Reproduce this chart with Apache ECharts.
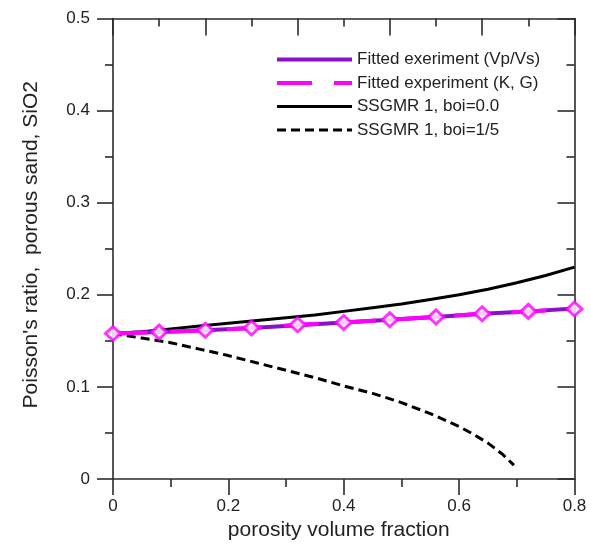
<!DOCTYPE html>
<html>
<head>
<meta charset="utf-8">
<script src="https://cdn.jsdelivr.net/npm/echarts@6/dist/echarts.min.js"></script>
<style>
html,body{margin:0;padding:0;background:#fff;}
#chart{width:591px;height:547px;}
</style>
</head>
<body>
<div id="chart"></div>
<script>
// Fitted experiment points (porosity, Poisson's ratio)
const fitX = [0, 0.08, 0.16, 0.24, 0.32, 0.40, 0.48, 0.56, 0.64, 0.72, 0.80];
const fitVpVs = [0.158, 0.1595, 0.1615, 0.164, 0.167, 0.170, 0.173, 0.176, 0.1795, 0.182, 0.185];
const fitKG   = [0.158, 0.1595, 0.1615, 0.164, 0.1675, 0.170, 0.173, 0.176, 0.1795, 0.182, 0.1845];

// SSGMR 1 model curves
const modelX = [0, 0.05, 0.1, 0.15, 0.2, 0.25, 0.3, 0.35, 0.4, 0.45, 0.5, 0.55, 0.6, 0.65, 0.7, 0.75, 0.8];
const boi0 = [0.158, 0.160, 0.163, 0.166, 0.169, 0.172, 0.175, 0.178, 0.182, 0.186, 0.190, 0.195, 0.200, 0.206, 0.213, 0.221, 0.230];
const boiX = [0, 0.05, 0.1, 0.15, 0.2, 0.25, 0.3, 0.35, 0.4, 0.45, 0.5, 0.55, 0.6, 0.625, 0.65, 0.675, 0.695];
const boi15 = [0.158, 0.153, 0.148, 0.141, 0.134, 0.126, 0.118, 0.110, 0.101, 0.093, 0.083, 0.071, 0.057, 0.0485, 0.039, 0.027, 0.015];

const names = ['Fitted exeriment (Vp/Vs)', 'Fitted experiment (K, G)', 'SSGMR 1, boi=0.0', 'SSGMR 1, boi=1/5'];
const xTicks = ['0', '0.2', '0.4', '0.6', '0.8'];
const yTicks = ['0', '0.1', '0.2', '0.3', '0.4', '0.5'];

const pairs = (xs, ys) => xs.map((x, i) => [x, ys[i]]);
const FONT = '"Liberation Sans", Arial, sans-serif';
const AX = '#2b2b2b';

const chart = echarts.init(document.getElementById('chart'), null, {renderer: 'canvas'});
chart.setOption({
  animation: false,
  backgroundColor: '#fff',
  textStyle: {fontFamily: FONT},
  grid: {left: 113, right: 16.5, top: 18.5, bottom: 68, containLabel: false},
  legend: {
    orient: 'vertical', left: 270, top: 46,
    itemWidth: 75, itemHeight: 14, itemGap: 6.5,
    data: names,
    lineStyle: {width: 'inherit'},
    itemStyle: {color: 'rgba(0,0,0,0)', borderColor: 'rgba(0,0,0,0)', borderWidth: 0, opacity: 0},
    textStyle: {fontFamily: FONT, fontSize: 17, color: '#222', padding: [0, 0, 0, 0]}
  },
  xAxis: [{
    type: 'value', position: 'bottom', min: 0, max: 0.8, interval: 0.2,
    axisLine: {show: true, onZero: false, lineStyle: {color: AX, width: 1.6}},
    axisTick: {show: true, inside: false, length: 16, lineStyle: {color: AX, width: 1.6}},
    minorTick: {show: true, splitNumber: 2, length: 8, lineStyle: {color: AX, width: 1.6}},
    splitLine: {show: false},
    axisLabel: {margin: 19, fontSize: 17, color: '#222', fontFamily: FONT,
      formatter: (v) => xTicks.find(t => Math.abs(parseFloat(t) - v) < 1e-9) || ''},
    name: 'porosity volume fraction', nameLocation: 'middle', nameGap: 41,
    nameTextStyle: {fontSize: 21, color: '#222', fontFamily: FONT, padding: [0, 10, 0, 0]}
  }, {
    type: 'value', position: 'top', min: 0, max: 0.8, interval: 0.16,
    axisLine: {show: true, onZero: false, lineStyle: {color: AX, width: 1.6}},
    axisTick: {show: true, inside: true, length: 17, lineStyle: {color: AX, width: 1.6}},
    minorTick: {show: true, splitNumber: 2, length: 8, lineStyle: {color: AX, width: 1.6}},
    splitLine: {show: false},
    axisLabel: {show: false}
  }],
  yAxis: [{
    type: 'value', position: 'left', min: 0, max: 0.5, interval: 0.1,
    axisLine: {show: true, onZero: false, lineStyle: {color: AX, width: 1.6}},
    axisTick: {show: true, inside: false, length: 16, lineStyle: {color: AX, width: 1.6}},
    minorTick: {show: true, splitNumber: 2, length: 8, lineStyle: {color: AX, width: 1.6}},
    splitLine: {show: false},
    axisLabel: {margin: 23, fontSize: 17, color: '#222', fontFamily: FONT,
      formatter: (v) => yTicks.find(t => Math.abs(parseFloat(t) - v) < 1e-9) || ''},
    name: "Poisson's ratio,  porous sand, SiO2", nameLocation: 'middle', nameGap: 71,
    nameTextStyle: {fontSize: 21, color: '#222', fontFamily: FONT, padding: [0, 0, 0, 8]}
  }, {
    type: 'value', position: 'right', min: 0, max: 0.5, interval: 0.1,
    axisLine: {show: true, onZero: false, lineStyle: {color: AX, width: 1.6}},
    axisTick: {show: true, inside: true, length: 17, lineStyle: {color: AX, width: 1.6}},
    minorTick: {show: true, splitNumber: 2, length: 8, lineStyle: {color: AX, width: 1.6}},
    splitLine: {show: false},
    axisLabel: {show: false}
  }],
  series: [
    {
      name: names[2], type: 'line', data: pairs(modelX, boi0), symbol: 'none',
      lineStyle: {color: '#000', width: 3}, itemStyle: {color: '#000'}, z: 3
    },
    {
      name: names[3], type: 'line', data: pairs(boiX, boi15), symbol: 'none',
      lineStyle: {color: '#000', width: 3, type: [9, 5]}, itemStyle: {color: '#000'}, z: 3
    },
    {
      name: names[0], type: 'line', data: pairs(fitX, fitVpVs), symbol: 'none',
      lineStyle: {color: '#8A10CC', width: 4}, itemStyle: {color: '#8A10CC'}, z: 4
    },
    {
      name: names[1], type: 'line', data: pairs(fitX, fitKG), symbol: 'none',
      lineStyle: {color: '#FF00FF', width: 4, type: [35, 22]}, itemStyle: {color: '#FF00FF'}, z: 5
    },
    {
      name: 'markers', type: 'scatter', data: pairs(fitX, fitKG), symbol: 'diamond',
      symbolSize: [15, 14], clip: false,
      itemStyle: {color: '#fff', borderColor: '#FF00FF', borderWidth: 3}, z: 6
    }
  ]
});
</script>
</body>
</html>
